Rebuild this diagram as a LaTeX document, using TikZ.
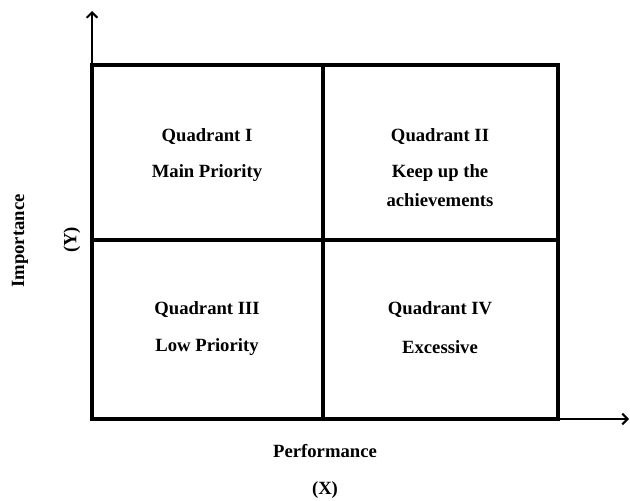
\documentclass[tikz,border=0pt]{standalone}
\usepackage{fontspec}
\setmainfont{Liberation Serif}
\usetikzlibrary{arrows.meta}
\begin{document}
\begin{tikzpicture}[x=0.75pt,y=-0.75pt,
  lbl/.style={font=\bfseries\fontsize{14}{16}\selectfont,inner sep=0pt},
  axis/.style={line width=1.5pt,-{Straight Barb[length=4pt,width=8pt]}},
  grid/.style={line width=2.3pt}]
\useasboundingbox (0,0) rectangle (630,500);
\coordinate (o) at (92,419);
\coordinate (ytip) at (92,11);
\coordinate (xtip) at (629,419);
\draw[axis] (o) -- (ytip);
\draw[axis] (o) -- (xtip);
\coordinate (tl) at (92,65);
\coordinate (br) at (558,419);
\draw[grid] (tl) rectangle (br);
\coordinate (mt) at (323,65);
\coordinate (mb) at (323,419);
\coordinate (ml) at (92,240);
\coordinate (mr) at (558,240);
\draw[grid] (mt) -- (mb);
\draw[grid] (ml) -- (mr);
\node[lbl] (q1a) at (207,137) {Quadrant I};
\node[lbl] (q1b) at (207,173) {Main Priority};
\node[lbl] (q2a) at (440,137) {Quadrant II};
\node[lbl] (q2b) at (440,173) {Keep up the};
\node[lbl] (q2c) at (440,200) {achievements};
\node[lbl] (q3a) at (207,310) {Quadrant III};
\node[lbl] (q3b) at (207,347) {Low Priority};
\node[lbl] (q4a) at (440,310) {Quadrant IV};
\node[lbl] (q4b) at (440,347) {Excessive};
\node[lbl] (xl1) at (325,451) {Performance};
\node[lbl] (xl2) at (325,490) {(X)};
\node[lbl,rotate=90] (yl1) at (20,241) {Importance};
\node[lbl,rotate=90] (yl2) at (72,240) {(Y)};
\end{tikzpicture}
\end{document}
